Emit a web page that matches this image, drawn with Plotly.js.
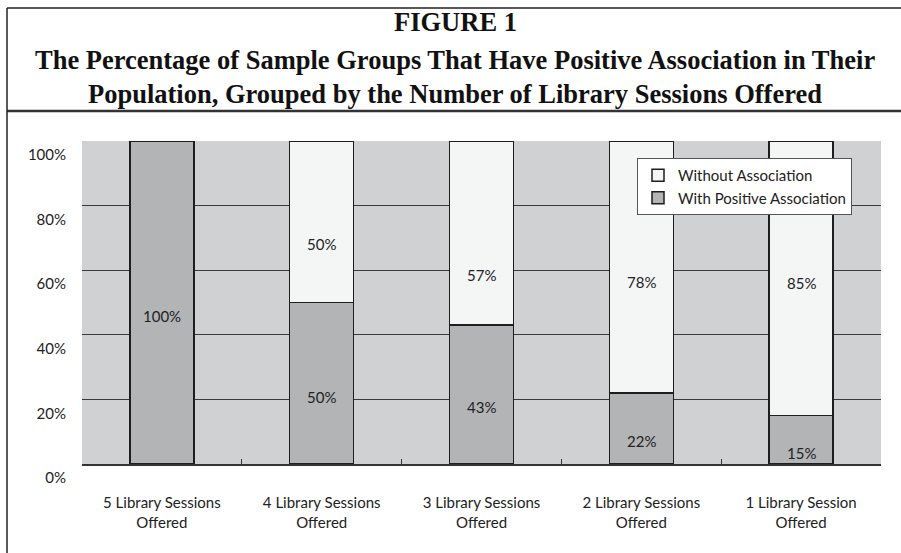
<!DOCTYPE html>
<html>
<head>
<meta charset="utf-8">
<script src="https://cdn.plot.ly/plotly-3.0.1.min.js"></script>
<style>html,body{margin:0;padding:0;background:#fff;}#chart{width:901px;height:553px;}</style>
</head>
<body>
<div id="chart"></div>
<script>
// ---- data ----
var categories = [
  "5 Library Sessions<br>Offered",
  "4 Library Sessions<br>Offered",
  "3 Library Sessions<br>Offered",
  "2 Library Sessions<br>Offered",
  "1 Library Session<br>Offered"
];
var withPositive = [100, 50, 43, 22, 15];
var withoutAssoc = [0, 50, 57, 78, 85];
var yTickVals = [0, 20, 40, 60, 80, 100];
var yTickText = ["0%", "20%", "40%", "60%", "80%", "100%"];
var titleLines = [
  "FIGURE 1",
  "The Percentage of Sample Groups That Have Positive Association in Their",
  "Population, Grouped by the Number of Library Sessions Offered"
];

// ---- style ----
var W = 901, H = 553;
var M = {l: 82, r: 20, t: 141, b: 89};
var PW = W - M.l - M.r, PH = H - M.t - M.b;
function px(x) { return (x - M.l) / PW; }
function py(y) { return (H - M.b - y) / PH; }
var lblFont = {family: "Lato, 'Noto Sans', sans-serif", size: 15, color: "#222"};
var posShift = [-13, -14, -12, -13, -13];
var negShift = [0, -22, -42, -15, -5];

var traces = [
  {type: "bar", name: "With Positive Association", x: categories, y: withPositive,
   marker: {color: "#b3b4b6", line: {color: "#1e1e1e", width: 1.5}}, hoverinfo: "y"},
  {type: "bar", name: "Without Association", x: categories, y: withoutAssoc,
   marker: {color: "#f4f5f5", line: {color: "#1e1e1e", width: 1.5}}, hoverinfo: "y"}
];

var annotations = [];
categories.forEach(function (c, i) {
  annotations.push({x: c, y: withPositive[i] / 2, xref: "x", yref: "y", text: withPositive[i] + "%",
    showarrow: false, yshift: posShift[i], font: lblFont});
  if (withoutAssoc[i] > 0) {
    annotations.push({x: c, y: withPositive[i] + withoutAssoc[i] / 2, xref: "x", yref: "y",
      text: withoutAssoc[i] + "%", showarrow: false, yshift: negShift[i], font: lblFont});
  }
});
var titleY = [22, 60, 94];
titleLines.forEach(function (t, i) {
  annotations.push({x: px(455), y: py(titleY[i]), xref: "paper", yref: "paper", xanchor: "center",
    yanchor: "middle", text: "<b>" + t + "</b>", showarrow: false,
    font: {family: "'Liberation Serif', 'Times New Roman', serif", size: 26.5, color: "#111"}});
});

var shapes = [
  {type: "line", xref: "paper", yref: "paper", x0: px(7), x1: px(905), y0: py(8), y1: py(8),
   line: {color: "#222", width: 1.5}},
  {type: "line", xref: "paper", yref: "paper", x0: px(7), x1: px(905), y0: py(111), y1: py(111),
   line: {color: "#333", width: 2.5}},
  {type: "line", xref: "paper", yref: "paper", x0: px(7), x1: px(7), y0: py(8), y1: py(560),
   line: {color: "#222", width: 1.5}}
];

var layout = {
  width: W, height: H,
  margin: M,
  paper_bgcolor: "#fff",
  plot_bgcolor: "#d0d1d3",
  barmode: "stack",
  bargap: 0.6,
  showlegend: true,
  legend: {x: px(637), y: py(158), xanchor: "left", yanchor: "top", traceorder: "reversed",
    bgcolor: "#fff", bordercolor: "#555", borderwidth: 1,
    font: {family: "Lato, 'Noto Sans', sans-serif", size: 15, color: "#222"}},
  xaxis: {type: "category", tickson: "boundaries", ticks: "inside", ticklen: 5, tickcolor: "#333",
    tickwidth: 1, showgrid: false, showline: true, linecolor: "#333", linewidth: 2,
    ticklabelstandoff: 24, tickfont: lblFont, fixedrange: true},
  yaxis: {range: [0, 100], tickvals: yTickVals, ticktext: yTickText, showgrid: true,
    gridcolor: "#3a3a3a", gridwidth: 1, zeroline: false, showline: false, ticks: "",
    ticklabelshift: 14, ticklabelstandoff: 15, tickfont: lblFont, fixedrange: true},
  annotations: annotations,
  shapes: shapes
};

Plotly.newPlot("chart", traces, layout, {displayModeBar: false, staticPlot: true});
</script>
</body>
</html>
